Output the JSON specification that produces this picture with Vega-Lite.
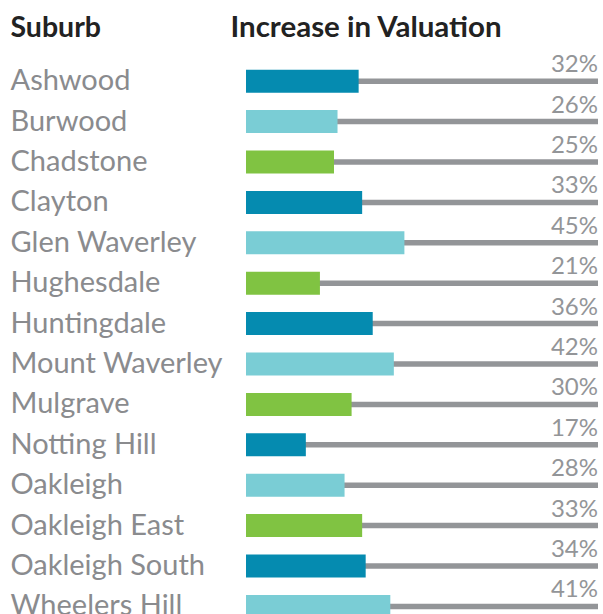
{
  "$schema": "https://vega.github.io/schema/vega-lite/v6.json",
  "autosize": "none",
  "padding": {"left": 246, "top": 61, "right": 5, "bottom": 0},
  "width": 352,
  "height": 565.6,
  "background": "white",
  "config": {"view": {"stroke": null}, "font": "Lato"},
  "data": {"values": [
    {"suburb": "Ashwood", "increase": 0.32},
    {"suburb": "Burwood", "increase": 0.26},
    {"suburb": "Chadstone", "increase": 0.25},
    {"suburb": "Clayton", "increase": 0.33},
    {"suburb": "Glen Waverley", "increase": 0.45},
    {"suburb": "Hughesdale", "increase": 0.21},
    {"suburb": "Huntingdale", "increase": 0.36},
    {"suburb": "Mount Waverley", "increase": 0.42},
    {"suburb": "Mulgrave", "increase": 0.30},
    {"suburb": "Notting Hill", "increase": 0.17},
    {"suburb": "Oakleigh", "increase": 0.28},
    {"suburb": "Oakleigh East", "increase": 0.33},
    {"suburb": "Oakleigh South", "increase": 0.34},
    {"suburb": "Wheelers Hill", "increase": 0.41}
  ]},
  "encoding": {
    "y": {
      "field": "suburb", "type": "nominal", "sort": null,
      "scale": {"paddingInner": 0, "paddingOuter": 0},
      "axis": {
        "title": "Suburb", "titleAngle": 0, "titleAlign": "left", "titleBaseline": "alphabetic",
        "titleX": -236, "titleY": -24, "titleFont": "Lato", "titleFontSize": 28.5, "titleFontWeight": "bold", "titleColor": "#222222",
        "ticks": false, "domain": false, "grid": false, "labelLimit": 0,
        "labelAlign": "left", "labelPadding": 236, "labelFont": "Lato", "labelFontSize": 29, "labelColor": "#8a8b8e", "labelBaseline": "middle"
      }
    }
  },
  "layer": [
    {
      "mark": {"type": "rule", "color": "#939598", "strokeWidth": 5.5, "strokeCap": "butt"},
      "encoding": {
        "x": {"datum": 0, "type": "quantitative", "scale": {"domain": [0, 1]},
          "axis": {"orient": "top", "title": "Increase in Valuation", "titleAlign": "left", "titleAnchor": "start", "titleBaseline": "alphabetic",
            "titleX": -16, "titleY": -24, "titleFont": "Lato", "titleFontSize": 29.5, "titleFontWeight": "bold", "titleColor": "#222222",
            "labels": false, "ticks": false, "domain": false, "grid": false}},
        "x2": {"datum": 1}
      }
    },
    {
      "mark": {"type": "bar", "height": 23},
      "encoding": {
        "x": {"field": "increase", "type": "quantitative"},
        "color": {"field": "suburb", "type": "nominal", "sort": null, "legend": null,
          "scale": {"range": ["#058bb0", "#7acdd5", "#80c342", "#058bb0", "#7acdd5", "#80c342", "#058bb0", "#7acdd5", "#80c342", "#058bb0", "#7acdd5", "#80c342", "#058bb0", "#7acdd5"]}}
      }
    },
    {
      "mark": {"type": "text", "align": "right", "baseline": "alphabetic", "dy": -9, "fontSize": 24, "color": "#939598", "font": "Lato"},
      "encoding": {
        "x": {"datum": 1, "type": "quantitative"},
        "text": {"field": "increase", "type": "quantitative", "format": ".0%"}
      }
    }
  ]
}
